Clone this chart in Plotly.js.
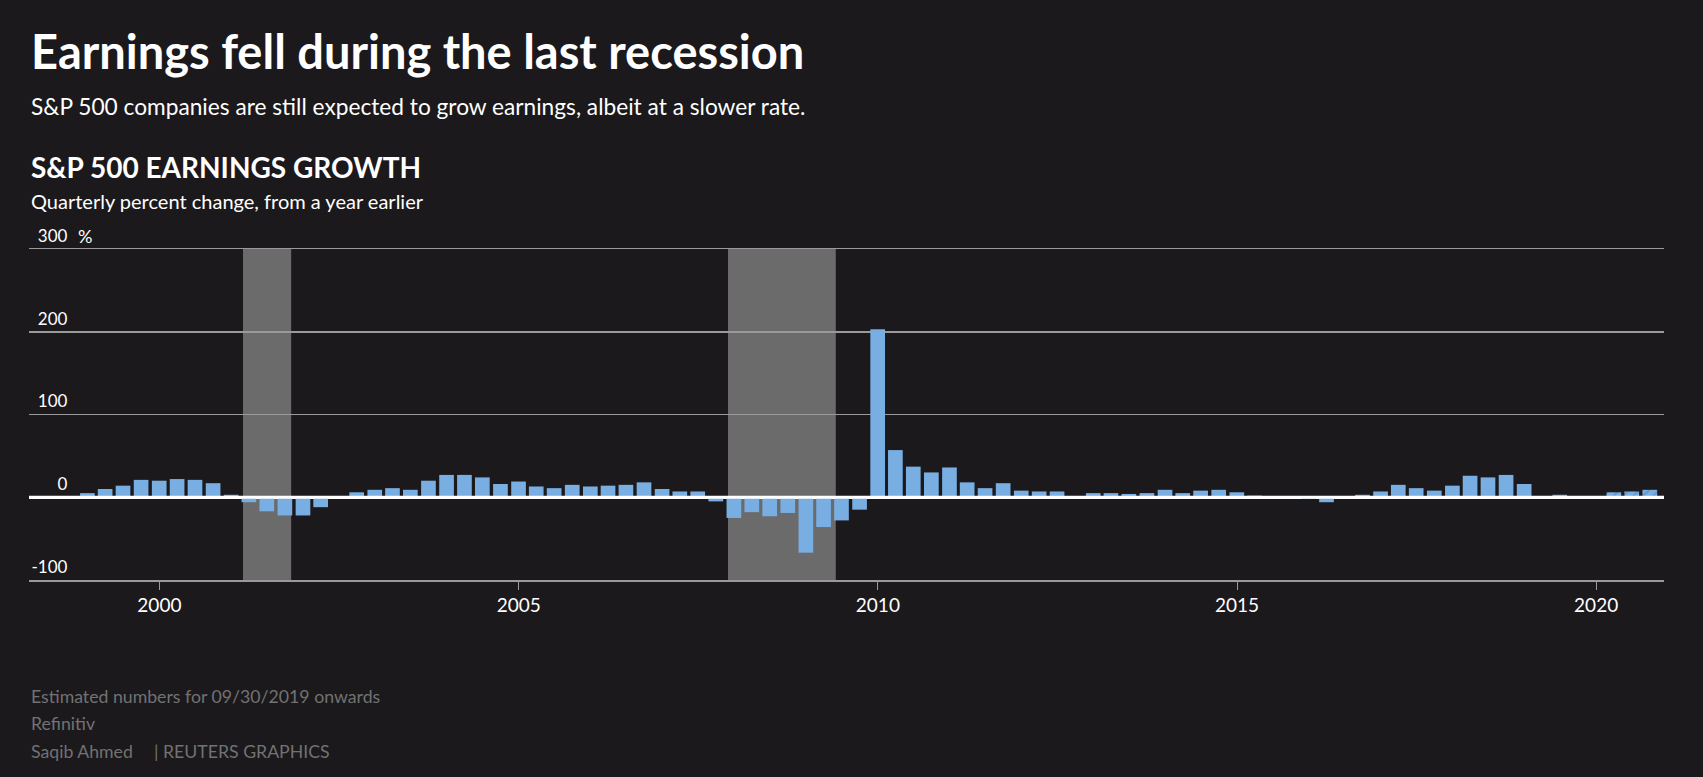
<!DOCTYPE html>
<html>
<head>
<meta charset="utf-8">
<script src="https://cdn.plot.ly/plotly-3.0.1.min.js"></script>
<style>
  html, body { margin: 0; padding: 0; background: #1b191c; }
  #chart { width: 1703px; height: 777px; }
</style>
</head>
<body>
<div id="chart"></div>
<script>
// Quarter-end dates
var quarters = [
  '1998-12-31',
  '1999-03-31','1999-06-30','1999-09-30','1999-12-31',
  '2000-03-31','2000-06-30','2000-09-30','2000-12-31',
  '2001-03-31','2001-06-30','2001-09-30','2001-12-31',
  '2002-03-31','2002-06-30','2002-09-30','2002-12-31',
  '2003-03-31','2003-06-30','2003-09-30','2003-12-31',
  '2004-03-31','2004-06-30','2004-09-30','2004-12-31',
  '2005-03-31','2005-06-30','2005-09-30','2005-12-31',
  '2006-03-31','2006-06-30','2006-09-30','2006-12-31',
  '2007-03-31','2007-06-30','2007-09-30','2007-12-31',
  '2008-03-31','2008-06-30','2008-09-30','2008-12-31',
  '2009-03-31','2009-06-30','2009-09-30','2009-12-31',
  '2010-03-31','2010-06-30','2010-09-30','2010-12-31',
  '2011-03-31','2011-06-30','2011-09-30','2011-12-31',
  '2012-03-31','2012-06-30','2012-09-30','2012-12-31',
  '2013-03-31','2013-06-30','2013-09-30','2013-12-31',
  '2014-03-31','2014-06-30','2014-09-30','2014-12-31',
  '2015-03-31','2015-06-30','2015-09-30','2015-12-31',
  '2016-03-31','2016-06-30','2016-09-30','2016-12-31',
  '2017-03-31','2017-06-30','2017-09-30','2017-12-31',
  '2018-03-31','2018-06-30','2018-09-30','2018-12-31',
  '2019-03-31','2019-06-30','2019-09-30','2019-12-31',
  '2020-03-31','2020-06-30','2020-09-30'
];

// Earnings growth, % change from a year earlier
var growth = [
  5,
  10, 14, 21, 20,
  22, 21, 17, 3,
  -6, -17, -22, -22,
  -12, 0, 6, 9,
  11, 9, 20, 27,
  27, 24, 16, 19,
  13, 11, 15, 13,
  14, 15, 18, 10,
  7, 7, -5, -25,
  -18, -23, -19, -67,
  -36, -28, -15, 203,
  57, 37, 30, 36,
  18, 11, 17, 8,
  7, 7, 0, 5,
  5, 4, 5, 9,
  5, 8, 9, 6,
  2, 0, 0, -2,
  -6, 0, 3, 7,
  15, 11, 8, 14,
  26, 24, 27, 16,
  0, 3, 0, 0,
  6, 7, 9
];

// true = estimated value (09/30/2019 onwards)
var estimated = [
  false,
  false,false,false,false, false,false,false,false,
  false,false,false,false, false,false,false,false,
  false,false,false,false, false,false,false,false,
  false,false,false,false, false,false,false,false,
  false,false,false,false, false,false,false,false,
  false,false,false,false, false,false,false,false,
  false,false,false,false, false,false,false,false,
  false,false,false,false, false,false,false,false,
  false,false,false,false, false,false,false,false,
  false,false,false,false, false,false,false,false,
  false,false,true,true,
  true,true,true
];

// Recessions
var recessionStarts = ['2001-03-01', '2007-12-01'];
var recessionEnds   = ['2001-11-01', '2009-06-01'];

var yTickVals = [-100, 0, 100, 200, 300];
var yTickText = ['-100', '0', '100', '200', '300'];
var xTickVals = ['2000-01-01', '2005-01-01', '2010-01-01', '2015-01-01', '2020-01-01'];
var xTickText = ['2000', '2005', '2010', '2015', '2020'];

var FONT = 'Lato, "Noto Sans", sans-serif';
var BAR = '#79aee2';
var GRID = '#9a9a9a';
var MUTED = '#727272';

var trace = {
  type: 'bar',
  x: quarters,
  y: growth,
  marker: {
    color: BAR,
    line: { width: 0 },
    pattern: {
      shape: estimated.map(function (e) { return e ? '/' : ''; }),
      fillmode: 'replace',
      bgcolor: BAR,
      fgcolor: '#5b8ec4',
      size: 7,
      solidity: 0.2
    }
  },
  hoverinfo: 'x+y'
};

var shapes = recessionStarts.map(function (s, i) {
  return {
    type: 'rect', xref: 'x', yref: 'paper',
    x0: s, x1: recessionEnds[i], y0: 0, y1: 1,
    fillcolor: '#6b6b6b', line: { width: 0 }, layer: 'below'
  };
});
shapes.push({
  type: 'line', xref: 'paper', yref: 'y',
  x0: 0, x1: 1, y0: 0, y1: 0,
  line: { color: '#ffffff', width: 3 }, layer: 'above'
});

function ann(text, x, y, size, color, bold) {
  return {
    text: bold ? '<b>' + text + '</b>' : text,
    xref: 'paper', yref: 'paper', x: x, y: y,
    xanchor: 'left', yanchor: 'middle', showarrow: false,
    font: { family: FONT, size: size, color: color }
  };
}

var annotations = [
  ann('Earnings fell during the last recession', 0, 1.598, 47, '#ffffff', true),
  ann('S&P 500 companies are still expected to grow earnings, albeit at a slower rate.', 0, 1.432, 22.7, '#ffffff', false),
  ann('S&P 500 EARNINGS GROWTH', 0, 1.2477, 28, '#ffffff', true),
  ann('Quarterly percent change, from a year earlier', 0, 1.145, 20, '#ffffff', false),
  ann('Estimated numbers for 09/30/2019 onwards', 0, -0.3505, 17.7, MUTED, false),
  ann('Refinitiv', 0, -0.435, 17.7, MUTED, false),
  ann('Saqib Ahmed', 0, -0.5196, 17.7, MUTED, false),
  ann('| REUTERS GRAPHICS', 0.075, -0.5196, 17.7, MUTED, false),
  {
    text: '%', xref: 'paper', yref: 'y', x: 0.0285, y: 300, yshift: 13,
    xanchor: 'left', yanchor: 'middle', showarrow: false,
    font: { family: FONT, size: 18, color: '#ffffff' }
  }
];

var layout = {
  width: 1703, height: 777,
  paper_bgcolor: '#1b191c', plot_bgcolor: '#1b191c',
  margin: { l: 29, r: 39, t: 249, b: 197, pad: 0 },
  showlegend: false,
  bargap: 0.17,
  font: { family: FONT, color: '#ffffff' },
  xaxis: {
    type: 'date',
    range: ['1998-03-09', '2020-12-11'],
    tickvals: xTickVals, ticktext: xTickText,
    ticks: 'outside', ticklen: 8, tickwidth: 1, tickcolor: GRID,
    ticklabelstandoff: 0,
    showgrid: false, zeroline: false,
    showline: true, mirror: true, linecolor: GRID, linewidth: 1.5,
    tickfont: { family: FONT, size: 19, color: '#ffffff' },
    fixedrange: true
  },
  yaxis: {
    range: [-100, 300],
    tickvals: yTickVals, ticktext: yTickText,
    anchor: 'free', position: 0.0235, side: 'left',
    ticks: '', showline: false,
    ticklabelshift: -13,
    showgrid: true, gridcolor: GRID, gridwidth: 1.5,
    zeroline: true, zerolinecolor: '#ffffff', zerolinewidth: 3,
    tickfont: { family: FONT, size: 17, color: '#ffffff' },
    fixedrange: true
  },
  shapes: shapes,
  annotations: annotations
};

Plotly.newPlot('chart', [trace], layout, { displayModeBar: false, staticPlot: true });
</script>
</body>
</html>
